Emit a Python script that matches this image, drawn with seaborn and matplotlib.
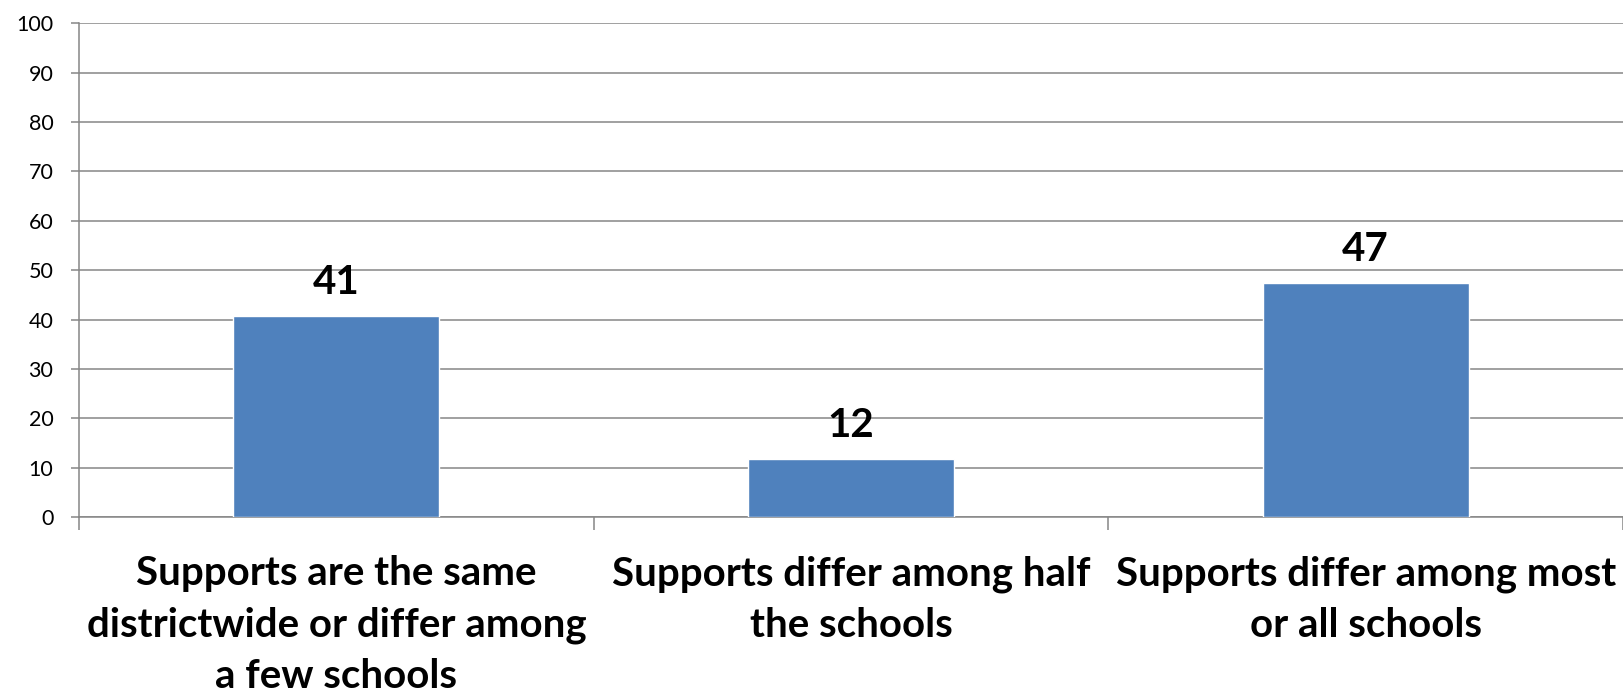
import matplotlib
matplotlib.use('Agg')
import matplotlib.pyplot as plt
import seaborn as sns
import pandas as pd

categories = ["Supports are the same\ndistrictwide or differ among\na few schools",
              "Supports differ among half\nthe schools",
              "Supports differ among most\nor all schools"]
values = [40.7, 11.7, 47.4]
yticks = list(range(0, 101, 10))

sns.set_theme(style='white')
plt.rcParams['font.family'] = ['Lato', 'DejaVu Sans']

W, H = 1623, 691
GREY = '#868686'
fig = plt.figure(figsize=(W / 100, H / 100), dpi=100)
ax = fig.add_axes([79 / W, 1 - 517 / H, (W - 79) / W, (517 - 23.3) / H])

df = pd.DataFrame({'cat': categories, 'val': values})
sns.barplot(data=df, x='cat', y='val', color='#4F81BD', saturation=1,
            width=0.4, ax=ax, zorder=3)

ax.set_ylim(0, 100)
ax.set_xlim(-0.5, -0.5 + (W - 79) / 516.5)
ax.set_yticks(yticks)
ax.set_yticklabels([str(t) for t in yticks], fontsize=15.5, color='black')
ax.tick_params(axis='y', length=6, width=1.1, color=GREY, pad=12.5, left=True)
ax.yaxis.grid(True, color=GREY, lw=1.1)
ax.set_axisbelow(True)

ax.set_xticks(range(len(categories)))
ax.set_xticklabels(categories, fontsize=29, fontweight='bold', color='black',
                   linespacing=1.48)
ax.tick_params(axis='x', length=0, pad=27.5)
ax.set_xticks([-0.5, 0.5, 1.5, 2.5], minor=True)
ax.tick_params(axis='x', which='minor', length=9.5, width=1.1, color=GREY, bottom=True)

for s in ['top', 'right']:
    ax.spines[s].set_visible(False)
for s in ['left', 'bottom']:
    ax.spines[s].set_color(GREY)
    ax.spines[s].set_linewidth(1.1)

ax.set_xlabel('')
ax.set_ylabel('')

ax.bar_label(ax.containers[0], labels=[f"{v:.0f}" for v in values],
             padding=11, fontsize=29, fontweight='bold', color='black')

fig.savefig('out.png', dpi=100, facecolor='white')
